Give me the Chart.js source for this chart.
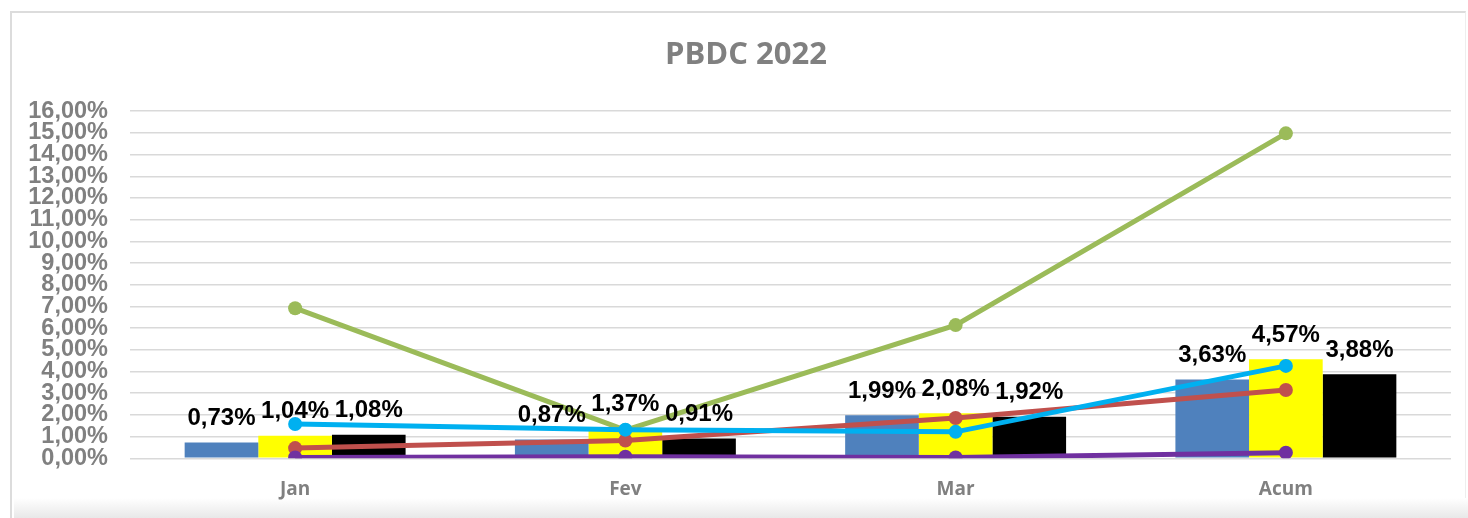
<!DOCTYPE html>
<html>
<head>
<meta charset="utf-8">
<script src="https://cdn.jsdelivr.net/npm/chart.js@4/dist/chart.umd.min.js"></script>
<style>
  html, body { margin: 0; padding: 0; background: #fff; }
  #wrap { position: relative; width: 1468px; height: 518px; overflow: hidden; background: #fff; }
  #frame { position: absolute; left: 10px; top: 11px; width: 1456px; height: 520px;
           border-left: 2px solid #dcdcdc; border-top: 2px solid #dcdcdc; border-right: 1px solid #eeeeee; box-sizing: border-box; }
  #shade { position: absolute; left: 14px; top: 498px; width: 1454px; height: 20px;
           background: linear-gradient(to bottom, #ffffff, #e8e8e8); }
  canvas { position: absolute; left: 0; top: 0; }
</style>
</head>
<body>
<div id="wrap">
  <div id="frame"></div>
  <div id="shade"></div>
  <canvas id="c" width="1468" height="518"></canvas>
</div>
<script>
const categories = ['Jan', 'Fev', 'Mar', 'Acum'];
const yTicks = [0,1,2,3,4,5,6,7,8,9,10,11,12,13,14,15,16];

// bar series (%)
const barBlue   = [0.73, 0.87, 1.99, 3.63];
const barYellow = [1.04, 1.37, 2.08, 4.57];
const barBlack  = [1.08, 0.91, 1.92, 3.88];

// line series (%)
const lineGreen  = [6.92, 1.30, 6.14, 14.98];
const lineCyan   = [1.58, 1.32, 1.22, 4.26];
const lineRed    = [0.47, 0.82, 1.86, 3.15];
const linePurple = [0.04, 0.07, 0.04, 0.26];

const fmt = v => v.toFixed(2).replace('.', ',') + '%';

const barLabels = {
  id: 'barLabels',
  afterDatasetsDraw(chart) {
    const ctx = chart.ctx;
    ctx.save();
    ctx.font = 'bold 24px "Liberation Sans", Arial, sans-serif';
    ctx.fillStyle = '#000';
    ctx.textAlign = 'center';
    ctx.textBaseline = 'middle';
    chart.data.datasets.forEach((ds, i) => {
      if (ds.type !== 'bar') return;
      const meta = chart.getDatasetMeta(i);
      meta.data.forEach((el, j) => {
        ctx.fillText(fmt(ds.data[j]), el.x, el.y - 24);
      });
    });
    ctx.restore();
  }
};

const lineDs = (data, color, order) => ({
  type: 'line', data, borderColor: color, backgroundColor: color,
  borderWidth: 5, pointRadius: 7, pointHoverRadius: 7, pointBorderWidth: 0,
  tension: 0, order
});
const barDs = (data, color) => ({
  type: 'bar', data, backgroundColor: color, borderWidth: 0, order: 10,
  categoryPercentage: 0.669, barPercentage: 1.0
});

new Chart(document.getElementById('c'), {
  data: {
    labels: categories,
    datasets: [
      barDs(barBlue, '#4F81BD'),
      barDs(barYellow, '#FFFF00'),
      barDs(barBlack, '#000000'),
      lineDs(lineGreen, '#9BBB59', 4),
      lineDs(lineRed, '#C0504D', 3),
      lineDs(linePurple, '#7030A0', 2),
      lineDs(lineCyan, '#00B0F0', 1)
    ]
  },
  options: {
    responsive: false,
    animation: false,
    layout: { padding: { left: 24, right: 0, top: 0, bottom: 0 } },
    plugins: {
      legend: { display: false },
      tooltip: { enabled: false },
      title: {
        display: true, text: 'PBDC 2022', color: '#808080',
        font: { family: '"Open Sans", sans-serif', size: 31, weight: 'bold' },
        padding: { top: 37, bottom: 37 }
      }
    },
    scales: {
      x: {
        grid: { display: false, drawTicks: false },
        border: { display: false },
        ticks: { color: '#808080', padding: 20,
                 font: { family: '"Open Sans", sans-serif', size: 19, weight: 'bold' } },
        afterFit: s => { s.height = 518 - 458.3; }
      },
      y: {
        min: 0, max: 16,
        afterBuildTicks: s => { s.ticks = yTicks.map(v => ({ value: v })); },
        grid: { color: '#d9d9d9', lineWidth: 1.5, drawTicks: false },
        border: { display: false },
        ticks: { color: '#808080', padding: 22, autoSkip: false,
                 font: { family: '"Liberation Sans", Arial, sans-serif', size: 23.5, weight: 'bold' },
                 callback: v => fmt(v) },
        afterFit: s => { s.width = 130 - 24; }
      },
      yRight: {
        position: 'right', min: 0, max: 16,
        grid: { display: false, drawTicks: false },
        border: { display: false },
        ticks: { display: false },
        afterFit: s => { s.width = 17; }
      }
    }
  },
  plugins: [barLabels]
});
</script>
</body>
</html>
